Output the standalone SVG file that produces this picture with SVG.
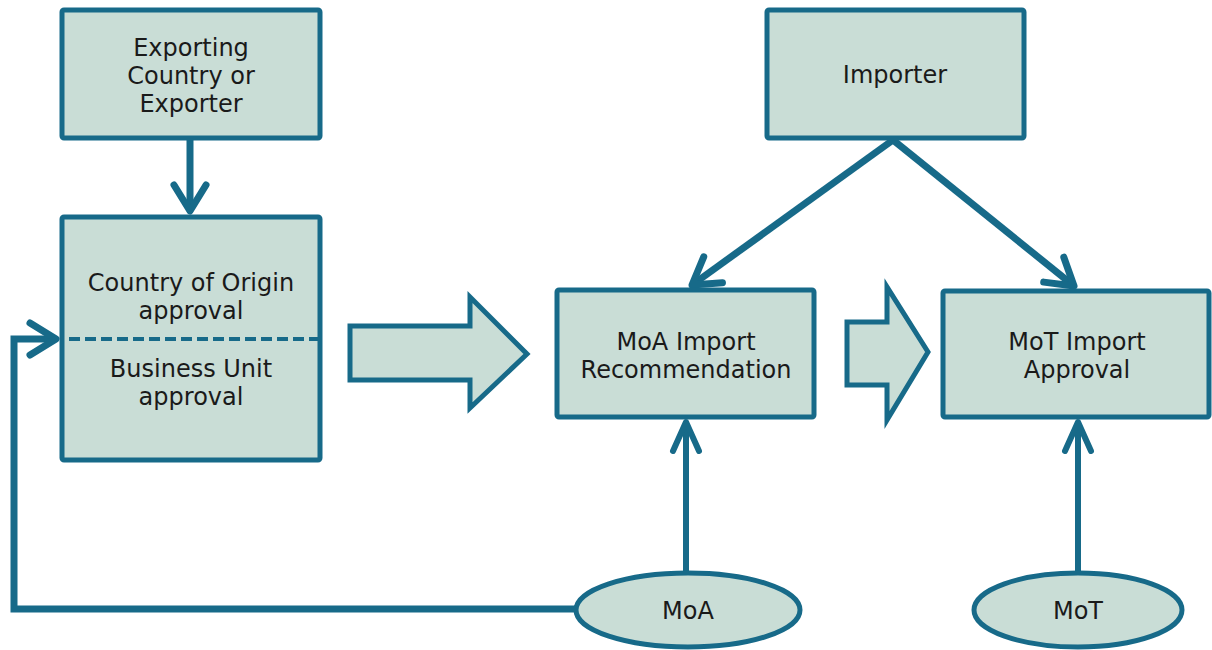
<svg xmlns="http://www.w3.org/2000/svg" width="1212" height="650" viewBox="0 0 1212 650">
  <style>
    .box { fill: #c9ddd6; stroke: #176a89; stroke-width: 5; }
    .lbl { font-family: "DejaVu Sans", Verdana, sans-serif; font-size: 24px; fill: #1a1a1a; text-anchor: middle; }
    .conn { fill: none; stroke: #176a89; stroke-width: 7; }
    .thin { fill: none; stroke: #176a89; stroke-width: 6; }
    .dash { fill: none; stroke: #176a89; stroke-width: 4; stroke-dasharray: 11 5; }
  </style>
  <defs>
    <marker id="chev" markerUnits="userSpaceOnUse" markerWidth="60" markerHeight="60" viewBox="-40 -30 50 60" refX="0" refY="0" orient="auto">
      <path d="M -26 -16 L 0 0 L -26 16" fill="none" stroke="#176a89" stroke-width="7" stroke-linejoin="round" stroke-linecap="round"/>
    </marker>
    <marker id="chevN" markerUnits="userSpaceOnUse" markerWidth="60" markerHeight="60" viewBox="-40 -30 50 60" refX="0" refY="0" orient="auto">
      <path d="M -29 -13 L 0 0 L -29 13" fill="none" stroke="#176a89" stroke-width="6" stroke-linejoin="round" stroke-linecap="round"/>
    </marker>
  </defs>

  <g id="connectors">
    <line class="conn" x1="190" y1="138" x2="190" y2="211" marker-end="url(#chev)"/>
    <line class="conn" x1="893" y1="140" x2="692" y2="285" marker-end="url(#chev)"/>
    <line class="conn" x1="893" y1="140" x2="1074" y2="286" marker-end="url(#chev)"/>
    <line class="thin" x1="686" y1="572" x2="686" y2="422" marker-end="url(#chevN)"/>
    <line class="thin" x1="1078" y1="572" x2="1078" y2="422" marker-end="url(#chevN)"/>
    <polyline class="conn" points="576,609 14,609 14,339 56,339" marker-end="url(#chev)"/>
  </g>

  <g id="flow-arrows">
    <path class="box" d="M 350 326 L 470 326 L 470 297 L 527 354 L 470 408 L 470 380 L 350 380 Z"/>
    <path class="box" d="M 847 322 L 887 322 L 887 287 L 928 352 L 887 420 L 887 385 L 847 385 Z"/>
  </g>

  <g id="exporter">
    <rect class="box" x="62" y="10" width="258" height="128" rx="2"/>
    <text class="lbl" x="191" y="56">Exporting</text>
    <text class="lbl" x="191" y="84">Country or</text>
    <text class="lbl" x="191" y="112">Exporter</text>
  </g>

  <g id="importer">
    <rect class="box" x="767" y="10" width="257" height="128" rx="2"/>
    <text class="lbl" x="895" y="83">Importer</text>
  </g>

  <g id="approvals">
    <rect class="box" x="62" y="217" width="258" height="243" rx="2"/>
    <line class="dash" x1="320" y1="339" x2="62" y2="339"/>
    <text class="lbl" x="191" y="291">Country of Origin</text>
    <text class="lbl" x="191" y="319">approval</text>
    <text class="lbl" x="191" y="377">Business Unit</text>
    <text class="lbl" x="191" y="405">approval</text>
  </g>

  <g id="moa-recommendation">
    <rect class="box" x="557" y="290" width="257" height="127" rx="2"/>
    <text class="lbl" x="686" y="350">MoA Import</text>
    <text class="lbl" x="686" y="378">Recommendation</text>
  </g>

  <g id="mot-approval">
    <rect class="box" x="943" y="291" width="266" height="126" rx="2"/>
    <text class="lbl" x="1077" y="350">MoT Import</text>
    <text class="lbl" x="1077" y="378">Approval</text>
  </g>

  <g id="moa">
    <ellipse class="box" cx="688" cy="610" rx="112" ry="37"/>
    <text class="lbl" x="688" y="619">MoA</text>
  </g>

  <g id="mot">
    <ellipse class="box" cx="1078" cy="610" rx="104" ry="37"/>
    <text class="lbl" x="1078" y="619">MoT</text>
  </g>
</svg>
